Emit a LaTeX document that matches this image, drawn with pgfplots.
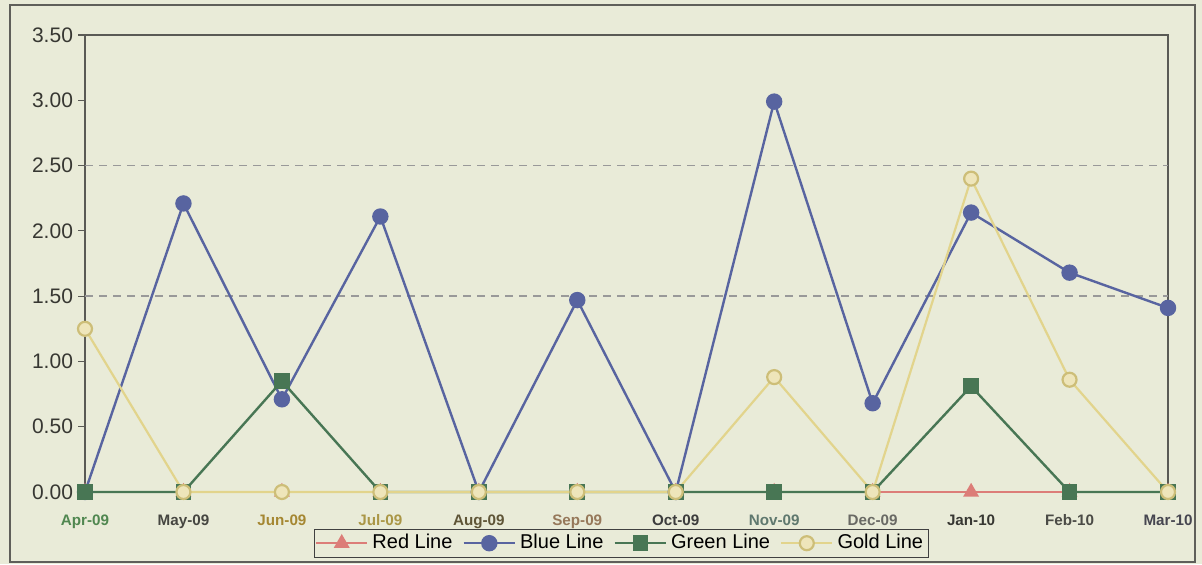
\documentclass[border=0pt]{standalone}
\usepackage{fontspec}
\setmainfont{Liberation Sans}
\usepackage{pgfplots}
\usepackage{pgfplotstable}
\pgfplotsset{compat=1.18}

\definecolor{bg}{RGB}{233,235,216}
\definecolor{framec}{RGB}{95,95,90}
\definecolor{axisc}{RGB}{90,90,85}
\definecolor{redl}{RGB}{220,125,120}
\definecolor{bluel}{RGB}{88,100,160}
\definecolor{greenl}{RGB}{72,118,84}
\definecolor{goldl}{RGB}{226,212,140}
\definecolor{goldm}{RGB}{205,190,120}
\definecolor{ticktxt}{RGB}{55,55,50}

\pgfplotstableread{
x red blue green gold
0  0 0    0    1.25
1  0 2.21 0    0
2  0 0.71 0.85 0
3  0 2.11 0    0
4  0 0    0    0
5  0 1.47 0    0
6  0 0    0    0
7  0 2.99 0    0.88
8  0 0.68 0    0
9  0 2.14 0.81 2.40
10 0 1.68 0    0.86
11 0 1.41 0    0
}\datatable

\begin{document}
\begin{tikzpicture}
\fill[bg] (0,0) rectangle (601pt,282pt);
\useasboundingbox (0,0) rectangle (601pt,282pt);
\draw[framec, line width=0.7pt] (5pt,1pt) rectangle (597.5pt,279.5pt);
\begin{axis}[
  at={(42.5pt,36pt)}, anchor=south west,
  width=541.5pt, height=228.5pt, scale only axis,
  xmin=0, xmax=11, ymin=0, ymax=3.5,
  clip=false,
  axis background/.style={fill=bg},
  axis line style={draw=axisc, line width=0.8pt},
  xtick={0,...,11},
  xticklabels={
    \textcolor[RGB]{80,135,80}{Apr-09},
    \textcolor[RGB]{70,70,65}{May-09},
    \textcolor[RGB]{165,135,50}{Jun-09},
    \textcolor[RGB]{170,150,70}{Jul-09},
    \textcolor[RGB]{95,85,55}{Aug-09},
    \textcolor[RGB]{150,120,90}{Sep-09},
    \textcolor[RGB]{60,60,60}{Oct-09},
    \textcolor[RGB]{95,120,110}{Nov-09},
    \textcolor[RGB]{105,105,100}{Dec-09},
    \textcolor[RGB]{55,55,50}{Jan-10},
    \textcolor[RGB]{75,75,70}{Feb-10},
    \textcolor[RGB]{70,70,80}{Mar-10}},
  xtick style={draw=none},
  xticklabel style={font=\fontsize{7.6}{9}\selectfont\bfseries, yshift=-4pt,
    text height=5.6pt, text depth=1.6pt},
  ytick={0,0.5,...,3.5},
  ytick pos=left,
  ytick style={draw=axisc, line width=0.6pt},
  tick align=outside,
  major tick length=3.5pt,
  yticklabel style={font=\fontsize{10.5}{12}\selectfont, text=ticktxt, xshift=1pt,
    /pgf/number format/.cd, fixed, fixed zerofill, precision=2},
  /pgf/number format/assume math mode=true,
  extra y ticks={1.5,2.5},
  extra y tick labels={},
  extra y tick style={grid=major, major tick length=0pt,
    major grid style={gray!80, dashed, line width=0.7pt, dash pattern=on 4pt off 3pt}},
  legend style={at={(0.495,-0.112)}, anchor=center, legend columns=4,
    draw=black!75, fill=bg, inner sep=0.5pt,
    font=\fontsize{10}{11}\selectfont,
    /tikz/every even column/.append style={column sep=3pt}},
  legend image code/.code={\draw[mark repeat=2,mark phase=2]
    plot coordinates {(0cm,0cm)(0.45cm,0cm)(0.9cm,0cm)};},
]
\addplot[redl, line width=1.1pt, mark=triangle*, mark size=3.5pt,
  mark options={fill=redl}] table[x=x, y=red] {\datatable};
\addlegendentry{Red Line}
\addplot[bluel, line width=1.2pt, mark=*, mark size=3.5pt,
  mark options={fill=bluel}] table[x=x, y=blue] {\datatable};
\addlegendentry{Blue Line}
\addplot[greenl, line width=1.2pt, mark=square*, mark size=3.3pt,
  mark options={fill=greenl}] table[x=x, y=green] {\datatable};
\addlegendentry{Green Line}
\addplot[goldl, line width=1.1pt, mark=*, mark size=3.5pt,
  mark options={fill=goldl!60!white, draw=goldm}] table[x=x, y=gold] {\datatable};
\addlegendentry{Gold Line}
\end{axis}
\end{tikzpicture}
\end{document}
